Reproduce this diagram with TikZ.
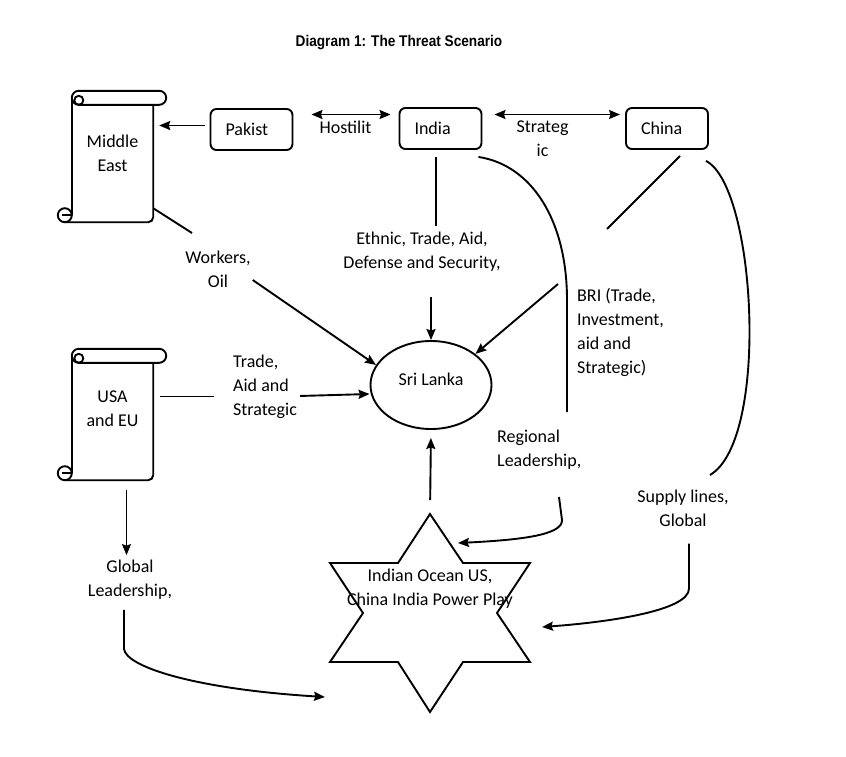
\documentclass[tikz,border=0pt]{standalone}
\usepackage{fontspec}
\setmainfont{Carlito}
\newfontfamily\titlefont{Liberation Sans}
\usetikzlibrary{arrows.meta, positioning, calc, shapes.geometric}

% vertical scroll drawn round a named node
\newcommand{\drawscroll}[1]{%
  \draw[scrollline, rounded corners=7pt] (#1.north west) rectangle ($(#1.north east)+(13,14)$);
  \draw[scrollline] ($(#1.north west)+(7,9.5)$) circle[radius=4.5];
  \draw[scrollline] ($(#1.north west)+(0,7)$) -- ($(#1.south west)+(0,-7)$);
  \draw[scrollline, rounded corners=5pt] ($(#1.north east)+(0,14)$) -- (#1.south east) -- ($(#1.south west)+(-7,0)$);
  \draw[scrollline, fill=white] ($(#1.south west)+(-7,-7)$) circle[radius=7];
  \draw[scrollline] ($(#1.south west)+(-10,-7)$) -- ($(#1.south west)+(0,-7)$);
}

\begin{document}
\begin{tikzpicture}[
    x=1pt, y=-1pt,
    font=\fontsize{18}{24}\selectfont,
    stake/.style={
        rectangle, rounded corners=6pt, draw=black, line width=1.9pt,
        minimum width=82pt, minimum height=41pt,
        text width=52pt, align=left, inner sep=0pt
    },
    scrollbody/.style={
        rectangle, minimum width=81pt, minimum height=131pt,
        align=center, inner sep=0pt
    },
    scrollline/.style={line width=1.9pt},
    hub/.style={
        ellipse, draw=black, line width=1.9pt,
        minimum width=121pt, minimum height=88pt, inner sep=0pt
    },
    lbl/.style={align=center, inner sep=2pt},
    lblleft/.style={align=left, inner sep=2pt, anchor=west},
    titletext/.style={font=\titlefont\bfseries\fontsize{15.5}{18}\selectfont},
    link/.style={line width=1.9pt},
    arrow/.style={-{Stealth[length=11pt, width=9pt, inset=1.5pt]}, line width=1.9pt},
    dblarrow/.style={{Stealth[length=11pt, width=9pt, inset=1.5pt]}-{Stealth[length=11pt, width=9pt, inset=1.5pt]}, line width=1.9pt},
    thinarrow/.style={-{Stealth[length=11pt, width=9pt, inset=1.5pt]}, line width=1pt}
]

\path[fill=white, use as bounding box] (0,0) rectangle (846,756);

% --- Title ---
\node[titletext] (title) at (399,43) {\scalebox{0.88}[1]{Diagram 1: The Threat Scenario}};

% --- Actors ---
\node[scrollbody, text depth=7pt] (me) at (112.5,156.5) {Middle\\East};
\drawscroll{me}
\node[scrollbody, text depth=12pt] (usa) at (112.5,414.5) {USA\\and EU};
\drawscroll{usa}

\node[stake] (pak) at (251.5,129.5) {Pakist};
\node[stake] (ind) at (440.5,128.5) {India};
\node[stake] (chn) at (667,128.5) {China};

\node[hub, text depth=11pt] (lanka) at (431,385) {Sri Lanka};

% --- Power play star ---
\draw[link] (430,514) -- (463,563) -- (530,563) -- (497,613) -- (530,662)
    -- (463,662) -- (430,712) -- (398,662) -- (330,662) -- (363,613)
    -- (330,563) -- (398,563) -- cycle;
\node[lbl] (powerplay) at (430,589) {Indian Ocean US,\\China India Power Play};
\coordinate (startop) at (430,514);

% --- Labels ---
\node[lbl] (hostil) at (345.5,127) {Hostilit};
\node[lbl] (rival) at (542.5,138.5) {Strateg\\ic};
\node[lbl] (ethnic) at (422,251.5) {Ethnic, Trade, Aid,\\Defense and Security,};
\node[lbl] (workers) at (218,269) {Workers,\\Oil};
\node[lblleft] (bri) at (575,332.5) {BRI (Trade,\\Investment,\\aid and\\Strategic)};
\node[lblleft] (usatrade) at (231,387) {Trade,\\Aid and\\Strategic};
\node[lblleft] (regional) at (495,449.5) {Regional\\Leadership,};
\node[lbl] (supply) at (683,508) {Supply lines,\\Global};
\node[lbl] (globallead) at (130,580) {Global\\Leadership,};

% --- Top row ---
\draw[arrow, shorten <=5pt, shorten >=6pt] ([yshift=4pt]pak.west) -- ([yshift=4pt]pak.west -| me.east);
\draw[dblarrow, shorten <=18pt, shorten >=8pt] ([yshift=15pt]pak.east) -- ([yshift=15pt]pak.east -| ind.west);
\draw[dblarrow, shorten <=12pt, shorten >=5pt] ([yshift=14pt]ind.east) -- ([yshift=14pt]ind.east -| chn.west);

% --- India ---
\draw[link, shorten <=7pt, shorten >=4pt] ([xshift=-4.5pt]ind.south) -- ([xshift=-4.5pt]ind.south |- ethnic.north);
\draw[arrow, shorten <=24pt] (ethnic.south -| lanka.north) -- (lanka.north);

\coordinate (indend) at (567,412);
\draw[link] ([xshift=-4pt, yshift=-7pt]ind.south east) .. controls +(53,8) and (567,220) .. (567,300) -- (indend);

\coordinate (regstart) at (559,497);
\coordinate (regtip) at (458,543);
\draw[arrow] (regstart) -- (562,520) .. controls (563,535) and (520,540) .. (regtip);

% --- Middle East ---
\coordinate (workend) at (192,233);
\draw[link] ([yshift=14pt]me.south east) -- (workend);
\draw[arrow] ([yshift=-11pt]workers.east) -- (lanka.160);

% --- USA and EU ---
\draw[link, shorten <=7pt, shorten >=17pt] ([yshift=18pt]usa.east) -- ([yshift=18pt]usa.east -| usatrade.west);
\draw[arrow, shorten <=1pt] ([yshift=-9pt]usatrade.east) -- ([yshift=-9pt]lanka.west);
\draw[thinarrow, shorten <=10pt, shorten >=3pt] ([xshift=14pt]usa.south) -- ([xshift=14pt]usa.south |- globallead.north);

\coordinate (gltip) at (325,697);
\draw[arrow, shorten <=8pt] ([xshift=-6pt]globallead.south) -- ++(0,47) .. controls +(2,18) and +(-130,-8) .. (gltip);

% --- China ---
\coordinate (chnend) at (607,229);
\draw[link] ([xshift=13pt, yshift=-6pt]chn.south) -- (chnend);
\coordinate (bristart) at (558,284);
\draw[arrow] (bristart) -- (lanka.35);

\coordinate (chnarc) at (710,475);
\draw[link] ([xshift=-3pt, yshift=-11pt]chn.south east) .. controls +(50,25) and +(60,-35) .. (chnarc);

\coordinate (suptip) at (542,627);
\draw[arrow, shorten <=15pt] ([xshift=6pt]supply.south) -- ++(0,60) .. controls +(0,22) and +(68,-5) .. (suptip);

% --- Star to Sri Lanka ---
\draw[arrow, shorten <=14pt, shorten >=8pt] (startop) -- (lanka.south);

\end{tikzpicture}
\end{document}
